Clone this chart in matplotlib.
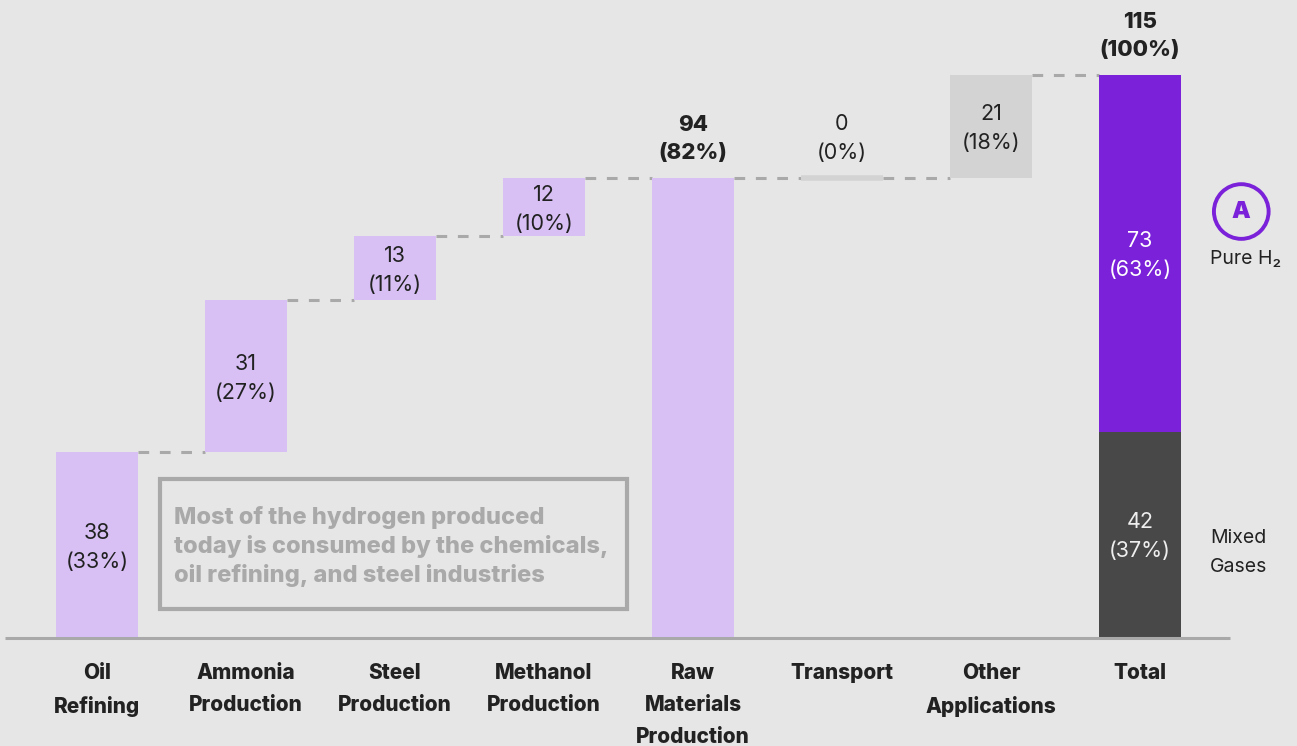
import matplotlib
matplotlib.use("Agg")
import matplotlib.pyplot as plt
from matplotlib.patches import Rectangle

plt.rcParams['font.family'] = ['Inter', 'DejaVu Sans']

categories = ["Oil\nRefining", "Ammonia\nProduction", "Steel\nProduction", "Methanol\nProduction",
              "Raw\nMaterials\nProduction", "Transport", "Other\nApplications", "Total"]
values = [38, 31, 13, 12, 94, 0, 21, 115]
percents = [33, 27, 11, 10, 82, 0, 18, 100]
kinds = ["step", "step", "step", "step", "subtotal", "step", "step", "total"]
total_parts = [42, 73]
total_part_pcts = [37, 63]
total_part_names = ["Mixed\nGases", "Pure H\u2082"]
note = "Most of the hydrogen produced\ntoday is consumed by the chemicals,\noil refining, and steel industries"

BG = "#e6e6e6"
LIGHT_PURPLE = "#d8c0f5"
PURPLE = "#7a21d9"
DARK = "#484848"
GREY_BAR = "#d3d3d3"
LINE = "#a9a9a9"
TXT = "#222222"

fig = plt.figure(figsize=(12.97, 7.46), dpi=100, facecolor=BG)
ax = fig.add_axes([0, 0, 1, 1], facecolor=BG)
ax.set_xlim(-0.651, 8.054)
ax.set_ylim(-22.06, 130.3)
ax.axis("off")

W = 0.55
fs = 15.5
LS = 1.56

cum = 0
tops = []
for i, (v, p, k) in enumerate(zip(values, percents, kinds)):
    if k == "step":
        bottom = cum
        cum += v
        top = cum
        color = GREY_BAR if i == 6 else LIGHT_PURPLE
        if v == 0:
            ax.hlines(top, i - W / 2, i + W / 2, color=GREY_BAR, lw=4, zorder=3)
            ax.text(i, top + 3, f"{v}\n({p}%)", ha="center", va="bottom", fontsize=fs,
                    color=TXT, linespacing=LS)
        else:
            ax.bar(i, v, bottom=bottom, width=W, color=color, zorder=2)
            ax.text(i, bottom + v / 2 - 0.5, f"{v}\n({p}%)", ha="center", va="center", fontsize=fs,
                    color=TXT, linespacing=LS)
        tops.append(top)
    elif k == "subtotal":
        ax.bar(i, v, width=W, color=LIGHT_PURPLE, zorder=2)
        ax.text(i, v + 3, f"{v}\n({p}%)", ha="center", va="bottom", fontsize=fs + 0.5,
                color=TXT, fontweight=800, linespacing=1.5)
        tops.append(v)
    else:
        b = 0
        cols = [DARK, PURPLE]
        for part, pp, c, name in zip(total_parts, total_part_pcts, cols, total_part_names):
            ax.bar(i, part, bottom=b, width=W, color=c, zorder=2)
            ax.text(i, b + part / 2 - 0.3, f"{part}\n({pp}%)", ha="center", va="center", fontsize=fs,
                    color="white" if c == PURPLE else "#eeeeee", linespacing=LS)
            ax.text(i + 0.47, b + part / 2 - (3.5 if c == DARK else 1.0), name, ha="left",
                    va="center", fontsize=14, color=TXT, linespacing=1.8)
            b += part
        ax.text(i, v + 3, f"{v}\n({p}%)", ha="center", va="bottom", fontsize=fs + 0.5,
                color=TXT, fontweight=800, linespacing=1.5)
        tops.append(v)

# connectors
for i in range(len(values) - 1):
    level = tops[i + 1] if kinds[i + 1] == "total" else tops[i]
    ax.hlines(level, i + W / 2, i + 1 - W / 2, color=LINE, lw=2.2,
              linestyles=(0, (3.5, 3.5)), zorder=1)

# "A" badge
bx = 7 + 0.68
by = total_parts[0] + total_parts[1] / 2 + 8.6
ax.scatter([bx], [by], s=1550, facecolor="none", edgecolor=PURPLE, linewidth=2.8, zorder=4)
ax.text(bx, by, "A", ha="center", va="center", fontsize=17, fontweight=900, color=PURPLE)

# axis line
ax.hlines(0, -0.617, 7.604, color=LINE, lw=2.2, zorder=3)

# category labels
for i, c in enumerate(categories):
    ax.text(i, -5.1, c, ha="center", va="top", fontsize=15, fontweight=800,
            color=TXT, linespacing=1.74)

# note box
ax.add_patch(Rectangle((0.425, 5.9), 3.135, 26.5, fill=False, edgecolor=LINE, lw=3, zorder=3))
ax.text(0.52, 27.0, note, ha="left", va="top", fontsize=17, fontweight=800,
        color=LINE, linespacing=1.35)

fig.savefig("out.png", dpi=100, facecolor=BG)
